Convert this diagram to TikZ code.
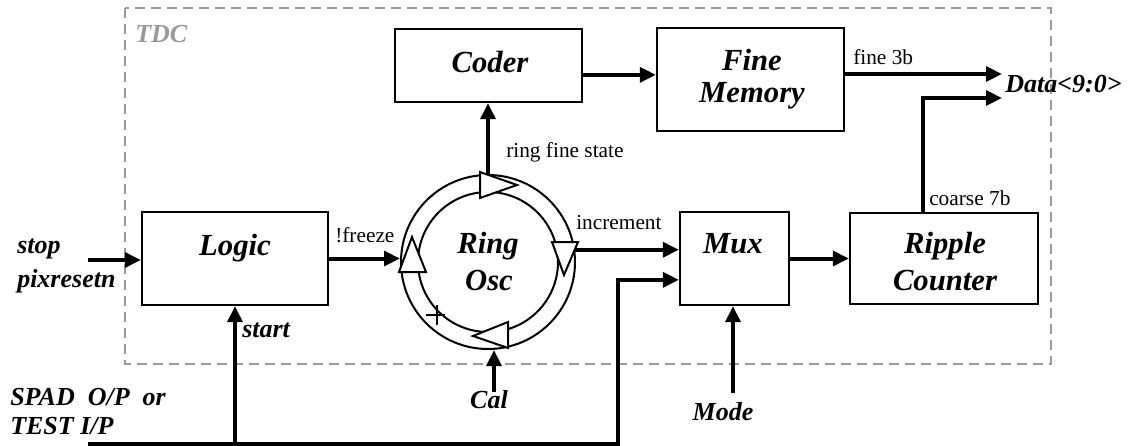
\documentclass[tikz,border=0pt]{standalone}
\usepackage{fontspec}
\setmainfont{Liberation Serif}
\usetikzlibrary{arrows.meta,fit}
\tikzset{
 box/.style={draw,line width=1.6pt,rectangle,inner sep=0pt},
 big/.style={inner sep=0pt,anchor=base,font=\fontsize{23}{27}\selectfont\bfseries\itshape},
 sig/.style={inner sep=0pt,font=\fontsize{19.5}{23}\selectfont\bfseries\itshape},
 lab/.style={inner sep=0pt,anchor=base west,font=\fontsize{16}{19}\selectfont},
 arr/.style={line width=3pt,-{Triangle[length=12pt,width=11pt]}},
 ringline/.style={draw,line width=1.5pt,circle,inner sep=0pt},
 tri/.style={draw,fill=white,line width=1.5pt,line join=miter},
 tdcbox/.style={draw=black!40,line width=1.5pt,dash pattern=on 7.5pt off 4.5pt},
}
\begin{document}
\begin{tikzpicture}[x=0.75pt,y=-0.75pt]
\useasboundingbox (0,0) rectangle (1136,446);
% TDC dashed frame
\draw[tdcbox] (125,8) rectangle (1051,364);
\node[sig,anchor=base west,text=black!40] (ttdc) at (135,42) {TDC};
% boxes
\node[box,fit={(395,29)(582,102)}] (coder) {};
\node[box,fit={(657,28)(844,131)}] (fmem) {};
\node[box,fit={(142,212)(328,305)}] (logic) {};
\node[box,fit={(680,212)(789,305)}] (mux) {};
\node[box,fit={(850,213)(1038,304)}] (ripple) {};
% ring oscillator
\node[ringline,minimum size=130.5pt] (ring) at (488,262) {};
\node[ringline,minimum size=105pt] (ringin) at (488,262) {};
\filldraw[tri] (480,172) -- (480,198) -- (517,185) -- cycle;
\filldraw[tri] (552,242) -- (578,242) -- (564,275) -- cycle;
\filldraw[tri] (412,237) -- (399,272) -- (426,272) -- cycle;
\filldraw[tri] (473,336) -- (508,322) -- (508,348) -- cycle;
\draw[line width=1.5pt] (426,315) -- (445,315) (437,305) -- (437,325);
% coordinates
\coordinate (stopS) at (88,260);
\coordinate (spad) at (88,444);
\coordinate (bend) at (618,444);
\coordinate (cal) at (494,392);
\coordinate (mode) at (733,393);
\coordinate (d1) at (1002,74);
\coordinate (d2) at (1002,98);
% connectors
\draw[arr] (stopS) -- (stopS -| logic.west);
\draw[arr] (logic.east) -- (logic.east -| ring.west);
\draw[arr] (ring.north) -- (ring.north |- coder.south);
\draw[arr] ([yshift=-7pt]coder.east) -- ([yshift=-7pt]coder.east -| fmem.west);
\draw[arr] (fmem.east |- d1) -- (d1);
\draw[arr] (ring.8) -- (ring.8 -| mux.west);
\draw[arr] (mux.east) -- (mux.east -| ripple.west);
\draw[arr] ([xshift=-15.75pt]ripple.north) |- (d2);
\draw[arr] (cal) -- (cal |- ring.south);
\draw[arr] (mode) -- (mode |- mux.south);
\draw[arr] (logic.south |- spad) -- (logic.south);
\draw[arr] (spad) -- (bend) |- ([yshift=-16pt]mux.west);
% block texts
\node[big] (tcoder) at (490,72) {Coder};
\node[big] (tfine) at (752,70) {Fine};
\node[big] (tmem) at (752,102) {Memory};
\node[big] (tlogic) at (235,255) {Logic};
\node[big] (tring) at (488,253) {Ring};
\node[big] (tosc) at (489,290) {Osc};
\node[big] (tmux) at (733,253) {Mux};
\node[big] (tripple) at (945,253) {Ripple};
\node[big] (tcounter) at (945,290) {Counter};
% signal texts
\node[sig,anchor=base west] (tstop) at (17,253) {stop};
\node[sig,anchor=base west] (tpix) at (17,287) {pixresetn};
\node[sig,anchor=base west] (tstart) at (242,337) {start};
\node[sig,anchor=base west] (tspad) at (10,405) {SPAD\ \ O/P\ \ or};
\node[sig,anchor=base west] (ttest) at (10,434) {TEST I/P};
\node[sig,anchor=base] (tcal) at (489,408) {Cal};
\node[sig,anchor=base] (tmode) at (723,420) {Mode};
\node[sig,anchor=base west] (tdata) at (1005,92) {Data<9:0>};
% small labels
\node[lab] (tfreeze) at (335,242) {!freeze};
\node[lab] (tinc) at (576,229) {increment};
\node[lab] (trfs) at (506,157) {ring fine state};
\node[lab] (tf3) at (853,64) {fine 3b};
\node[lab] (tc7) at (929,205) {coarse 7b};
\end{tikzpicture}
\end{document}
